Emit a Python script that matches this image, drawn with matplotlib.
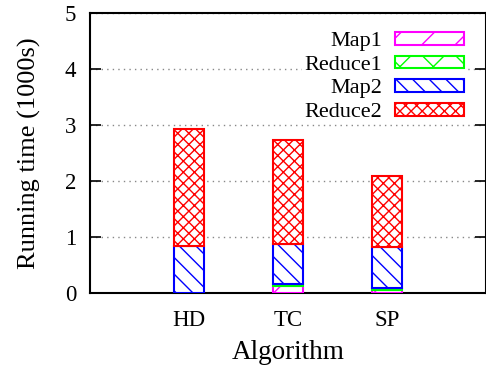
import matplotlib.pyplot as plt
import numpy as np

plt.rcParams['font.family'] = ['Liberation Serif', 'DejaVu Serif']
plt.rcParams['hatch.linewidth'] = 1.0

algorithms = ['HD', 'TC', 'SP']
map1 = [0.0, 0.13, 0.05]
reduce1 = [0.0, 0.03, 0.03]
map2 = [0.84, 0.71, 0.74]
reduce2 = [2.09, 1.86, 1.27]

series = [
    ('Map1', map1, '#ff00ff', '/'),
    ('Reduce1', reduce1, '#00ff00', 'x'),
    ('Map2', map2, '#0000ff', '\\\\'),
    ('Reduce2', reduce2, '#ff0000', 'xxx'),
]

fig = plt.figure(figsize=(4.86, 3.68), dpi=100)
ax = fig.add_axes([0.185, 0.204, 0.815, 0.761])

x = np.arange(len(algorithms))
bottom = np.zeros(len(algorithms))
for name, vals, col, hatch in series:
    ax.bar(x, vals, 0.31, bottom=bottom, color='white', edgecolor=col,
           hatch=hatch, linewidth=1.5, label=name, zorder=3)
    bottom += np.array(vals)

ax.set_xlim(-1, 3)
ax.set_ylim(0, 5)
ax.set_yticks([0, 1, 2, 3, 4, 5])
ax.set_xticks(x)
ax.set_xticklabels(algorithms)
ax.tick_params(axis='x', length=0, labelsize=16.5, pad=12)
ax.tick_params(axis='y', direction='in', length=8, width=1.2, right=True,
               labelsize=16.5, pad=10)
for s in ax.spines.values():
    s.set_linewidth(1.5)

ax.yaxis.grid(True, linestyle=(0, (1, 3)), color='#888888', linewidth=1)
ax.set_axisbelow(True)

ax.set_xlabel('Algorithm', fontsize=19.5, labelpad=7)
ax.set_ylabel('Running time (1000s)', fontsize=19, labelpad=17)

leg = ax.legend(loc='upper right', bbox_to_anchor=(0.95, 0.94), frameon=True,
                markerfirst=False, fontsize=16, handlelength=3.1,
                handleheight=0.5, labelspacing=0.2, handletextpad=0.6,
                borderpad=0.1, borderaxespad=0)
leg.get_frame().set_edgecolor('none')
leg.get_frame().set_facecolor('white')
leg.get_frame().set_alpha(1)
leg.set_zorder(5)

fig.savefig('out.png', dpi=100)
